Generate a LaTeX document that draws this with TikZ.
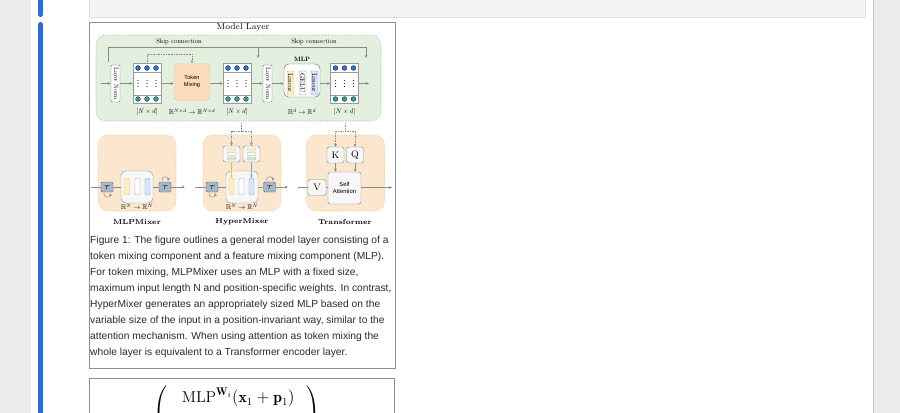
\documentclass[tikz,border=0pt]{standalone}
\usepackage{amsmath,amssymb}
\usepackage{graphicx}
\usepackage{fontspec}
\newfontfamily\capfont{Liberation Sans}
\usetikzlibrary{arrows.meta}

\definecolor{pagegray}{HTML}{EBEBEB}
\definecolor{boxgray}{HTML}{F4F4F4}
\definecolor{barblue}{HTML}{2F6FD0}
\definecolor{framegray}{HTML}{8E8E8E}
\definecolor{layergreen}{HTML}{E3EFDF}
\definecolor{mixorange}{HTML}{FBE6CE}
\definecolor{mixedge}{HTML}{EDBF88}
\definecolor{tokenfill}{HTML}{FADCBB}
\definecolor{dotblue}{HTML}{2A7DBD}
\definecolor{dotteal}{HTML}{379C8A}
\definecolor{linyellow}{HTML}{FBEFC6}
\definecolor{linyedge}{HTML}{E3C16A}
\definecolor{linblue}{HTML}{D9E4F7}
\definecolor{linbedge}{HTML}{84A5D9}
\definecolor{gengreen}{HTML}{D3EACB}
\definecolor{genedge}{HTML}{8DBF7E}
\definecolor{tfill}{HTML}{A8B7C7}
\definecolor{tedge}{HTML}{55677A}
\definecolor{linegray}{HTML}{8A8A8A}
\definecolor{captext}{HTML}{2B2B2B}

% small labels are set at 10pt and scaled down
\newcommand{\shrink}[2][0.5]{\scalebox{#1}{#2}}

\begin{document}
\begin{tikzpicture}[x=0.3mm,y=-0.3mm,
  sz/.style 2 args={minimum width=#1*0.3mm,minimum height=#2*0.3mm,inner sep=0pt},
  arr/.style={-{Stealth[length=2.6pt,width=2.4pt]}},
  flow/.style={draw=linegray,line width=0.4pt},
  dotline/.style={draw=linegray,densely dotted,line width=0.4pt},
  tokbox/.style={draw=gray!80,fill=white,line width=0.4pt,sz={28}{40}},
  lnbox/.style={draw=gray!90!black,fill=white,rounded corners=1pt,line width=0.4pt,sz={9}{37}},
  tmbox/.style={fill=tokenfill,draw=mixedge,densely dashed,rounded corners=3pt,sz={36}{37},align=center,font=\capfont\fontsize{4.8}{6}\selectfont},
  mlpbox/.style={draw=gray!90!black,fill=white,rounded corners=4pt,line width=0.4pt},
  linbar/.style={rounded corners=1pt,line width=0.4pt,sz={7}{24}},
  smallbar/.style={rounded corners=0.8pt,line width=0.4pt,sz={5}{16}},
  genbar/.style={rounded corners=0.5pt,line width=0.3pt,sz={8}{3}},
  panel/.style={fill=mixorange,draw=mixedge,densely dotted,rounded corners=3mm,line width=0.5pt,sz={78}{76}},
  tbox/.style={fill=tfill,draw=tedge,rounded corners=1pt,line width=0.4pt,sz={12}{10},font=\fontsize{5}{6}\selectfont},
  kqbox/.style={fill=gray!6,draw=gray!90,rounded corners=2pt,line width=0.4pt,sz={17}{16},font=\fontsize{8}{9}\selectfont},
  dimlbl/.style={inner sep=0pt},
  namelbl/.style={font=\bfseries\fontsize{6.1}{7}\selectfont,inner sep=0pt}]

% page around the figure
\useasboundingbox (0,0) rectangle (900,413);
\fill[pagegray] (0,0) rectangle (900,413);
\fill[white] (31,0) rectangle (873,413);
\draw[gray!45] (873,0) -- (873,413);
\fill[barblue,rounded corners=1.5pt] (38,-5) rectangle (43,17);
\fill[barblue,rounded corners=1.5pt] (38,22) rectangle (43,420);
\filldraw[fill=boxgray,draw=gray!25] (89,-5) rectangle (865,17);
\fill[white] (90,23) rectangle (395,367);
\draw[framegray,line width=0.5pt] (89,22) rectangle (395,368);
\draw[framegray,line width=0.5pt] (89,378) rectangle (394,425);

% model layer
\node (title) at (243,27.5) {\fontsize{7.2}{9}\selectfont Model Layer};
\node[fill=layergreen,draw=gray!70,densely dotted,rounded corners=3mm,line width=0.5pt,sz={285}{86}] (layer) at (238.5,78) {};

\node[lnbox] (ln1) at (115.5,83.5) {\shrink[0.53]{\rotatebox{-90}{Layer Norm}}};
\node[tokbox] (mat1) at (147,83.5) {};
\node[tmbox] (tm) at (192,82) {Token\\Mixing};
\node[tokbox] (mat2) at (237,83.5) {};
\node[lnbox] (ln2) at (267.5,83.5) {\shrink[0.53]{\rotatebox{-90}{Layer Norm}}};
\node[mlpbox,sz={36}{33}] (mlp) at (302,80.5) {};
\node[inner sep=0pt] (mlplbl) at (302,59) {\shrink[0.53]{\bfseries MLP}};
\node[linbar,fill=linyellow,draw=linyedge] (lin1) at (290.5,83) {\shrink[0.58]{\rotatebox{-90}{Linear}}};
\node[linbar,fill=gray!5,draw=gray!70] (gelu) at (302.5,83) {\shrink[0.58]{\rotatebox{-90}{GELU}}};
\node[linbar,fill=linblue,draw=linbedge] (lin2) at (314.5,83) {\shrink[0.58]{\rotatebox{-90}{Linear}}};
\node[tokbox] (mat3) at (344.5,83.5) {};

\foreach \m in {mat1,mat2,mat3}{
  \draw[gray!80,line width=0.4pt] ([shift={(-14,-11.5)}]\m.center) -- ([shift={(14,-11.5)}]\m.center);
  \draw[gray!80,line width=0.4pt] ([shift={(-14,11.5)}]\m.center) -- ([shift={(14,11.5)}]\m.center);
  \foreach \dx in {-9,0,9}{
    \filldraw[fill=dotblue,draw=blue!40!black,line width=0.3pt] ([shift={(\dx,-15.5)}]\m.center) circle (0.72mm);
    \filldraw[fill=dotteal,draw=teal!40!black,line width=0.3pt] ([shift={(\dx,15.5)}]\m.center) circle (0.72mm);
    \foreach \dy in {-3,0,3}
      \fill[black!80] ([shift={(\dx,\dy)}]\m.center) circle (0.22mm);
  }
}

\coordinate (in1) at (101,83.5);
\coordinate (out1) at (369,83.5);
\draw[flow,arr] (in1) -- (ln1);
\draw[flow,arr] (ln1) -- (mat1);
\draw[flow,arr] (mat1) -- (mat1 -| tm.west);
\draw[flow,arr] (tm.east |- mat2) -- (mat2);
\draw[flow,arr] (mat2) -- (ln2);
\draw[flow,arr] (ln2) -- (ln2 -| mlp.west);
\draw[flow,arr] (mlp.east |- mat3) -- (mat3);
\draw[flow,arr] (mat3) -- (out1);

% skip connections
\coordinate (skL) at (108,62);
\coordinate (skT) at (108,47);
\coordinate (skM) at (258,58);
\coordinate (skR) at (366,58);
\draw[flow] (skL) -- (skT);
\draw[flow,arr] (skT) -| (skR);
\draw[flow,arr] (skT -| skM) -- (skM);
\node[dimlbl] (sk1) at (179,42) {\shrink[0.56]{Skip connection}};
\node[dimlbl] (sk2) at (314,42) {\shrink[0.56]{Skip connection}};
\draw[dotline,arr] (mat1.north) -- ++(0,-9) -| (tm.north);

\node[dimlbl] (dim1) at (147,112) {\shrink[0.57]{$[N\times d]$}};
\node[dimlbl] (dim2) at (192,112) {\shrink[0.6]{$\mathbb{R}^{N\times d}\to\mathbb{R}^{N\times d}$}};
\node[dimlbl] (dim3) at (237,112) {\shrink[0.57]{$[N\times d]$}};
\node[dimlbl] (dim4) at (302,112) {\shrink[0.6]{$\mathbb{R}^{d}\to\mathbb{R}^{d}$}};
\node[dimlbl] (dim5) at (344.5,112) {\shrink[0.57]{$[N\times d]$}};

% MLPMixer
\node[panel] (pmix) at (137,173) {};
\node[tbox] (mixt1) at (107,187) {$\mathcal{T}$};
\node[mlpbox,fill=gray!6,draw=gray!80,sz={32}{32}] (mixmlp) at (137,187) {};
\node[smallbar,fill=linyellow,draw=linyedge] (mixb1) at (127,186.5) {};
\node[smallbar,fill=white,draw=gray!70] (mixb2) at (137.5,186.5) {};
\node[smallbar,fill=linblue,draw=linbedge] (mixb3) at (147.5,186.5) {};
\node[tbox] (mixt2) at (165,187) {$\mathcal{T}$};
\coordinate (mixin) at (91,187);
\coordinate (mixout) at (185,187);
\draw[flow] (mixin) -- (mixt1) -- (mixmlp) -- (mixt2);
\draw[flow,arr] (mixt2) -- (mixout);
\draw[flow,arr] ([shift={(-3,1)}]mixt1.south) .. controls +(-1,5) and +(1,5) .. ([shift={(3,1)}]mixt1.south);
\draw[flow,arr] ([shift={(-3,-1)}]mixt2.north) .. controls +(-1,-5) and +(1,-5) .. ([shift={(3,-1)}]mixt2.north);
\node[dimlbl] (mixdim) at (137,207) {\shrink[0.6]{$\mathbb{R}^{N}\to\mathbb{R}^{N}$}};
\node[namelbl] (mixname) at (137,222) {MLPMixer};

% HyperMixer
\node[panel] (phyp) at (242,173) {};
\node[tbox] (hypt1) at (212,187) {$\mathcal{T}$};
\node[mlpbox,fill=gray!6,draw=gray!80,sz={32}{32}] (hypmlp) at (242,187) {};
\node[smallbar,fill=linyellow,draw=linyedge] (hypb1) at (231.5,186.5) {};
\node[smallbar,fill=white,draw=gray!70] (hypb2) at (241.5,186.5) {};
\node[smallbar,fill=linblue,draw=linbedge] (hypb3) at (251.5,186.5) {};
\node[tbox] (hypt2) at (269.5,187) {$\mathcal{T}$};
\node[kqbox] (hypg1) at (231.5,154) {};
\node[kqbox] (hypg2) at (251.5,154) {};
\foreach \g in {hypg1,hypg2}{
  \node[genbar,fill=gengreen,draw=genedge] (\g a) at ([yshift=-4.5*0.3mm]\g.center) {};
  \node[genbar,fill=white,draw=gray!70] (\g b) at (\g.center) {};
  \node[genbar,fill=linyellow,draw=linyedge] (\g c) at ([yshift=4.5*0.3mm]\g.center) {};
}
\coordinate (hypin) at (195,187);
\coordinate (hypout) at (288,187);
\draw[flow] (hypin) -- (hypt1) -- (hypmlp) -- (hypt2);
\draw[flow,arr] (hypt2) -- (hypout);
\draw[flow,arr] ([shift={(-3,1)}]hypt1.south) .. controls +(-1,5) and +(1,5) .. ([shift={(3,1)}]hypt1.south);
\draw[flow,arr] ([shift={(-3,-1)}]hypt2.north) .. controls +(-1,-5) and +(1,-5) .. ([shift={(3,-1)}]hypt2.north);
\coordinate (hyptop) at (241.5,123);
\coordinate (hypfork) at (241.5,131);
\draw[dotline] (hyptop) -- (hypfork);
\draw[dotline,arr] (hypfork) -| (hypg1.north);
\draw[dotline,arr] (hypfork) -| (hypg2.north);
\draw[draw=linyedge,line width=0.5pt,arr] (hypg1) -- (hypb1);
\draw[draw=linbedge,line width=0.5pt,arr] (hypg2) -- (hypb3);
\node[dimlbl] (hypdim) at (242,207) {\shrink[0.6]{$\mathbb{R}^{N}\to\mathbb{R}^{N}$}};
\node[namelbl] (hypname) at (242,222) {HyperMixer};

% Transformer
\node[panel] (ptrf) at (345.5,173) {};
\node[kqbox] (trfk) at (335.5,155) {K};
\node[kqbox] (trfq) at (355,155) {Q};
\node[kqbox,sz={18}{16}] (trfv) at (317,187.5) {V};
\node[kqbox,sz={33}{32},align=center,font=\capfont\fontsize{5}{6.2}\selectfont] (trfsa) at (344.5,188) {Self\\Attention};
\coordinate (trfin) at (298,187.5);
\coordinate (trfout) at (392,187.5);
\draw[flow] (trfin) -- (trfv) -- (trfv -| trfsa.west);
\draw[flow,arr] (trfsa.east |- trfout) -- (trfout);
\coordinate (trftop) at (345,123);
\coordinate (trffork) at (345,131);
\draw[dotline] (trftop) -- (trffork);
\draw[dotline,arr] (trffork) -| (trfk.north);
\draw[dotline,arr] (trffork) -| (trfq.north);
\draw[flow,arr] (trfk) -- (trfk |- trfsa.north);
\draw[flow,arr] (trfq) -- (trfq |- trfsa.north);
\node[namelbl] (trfname) at (345,222) {Transformer};

% caption
\node[anchor=north west,align=left,inner sep=0pt,text=captext,
  font=\capfont\fontsize{8.75}{13.6}\selectfont] (caption) at (90,236)
  {Figure 1: The figure outlines a general model layer consisting of a\\
   token mixing component and a feature mixing component (MLP).\\
   For token mixing, MLPMixer uses an MLP with a fixed size,\\
   maximum input length N and position-specific weights. In contrast,\\
   HyperMixer generates an appropriately sized MLP based on the\\
   variable size of the input in a position-invariant way, similar to the\\
   attention mechanism. When using attention as token mixing the\\
   whole layer is equivalent to a Transformer encoder layer.};

% next formula, cut off by the page
\node[anchor=north,inner sep=0pt] (eqn) at (237,386)
  {\fontsize{13.5}{16}\selectfont$\left(\begin{array}{c}\hspace{7pt}\mathrm{MLP}^{\mathbf{W}_i}(\mathbf{x}_1+\mathbf{p}_1)\hspace{5pt}\\ \rule{0pt}{40pt}\end{array}\right)$};
\end{tikzpicture}
\end{document}
